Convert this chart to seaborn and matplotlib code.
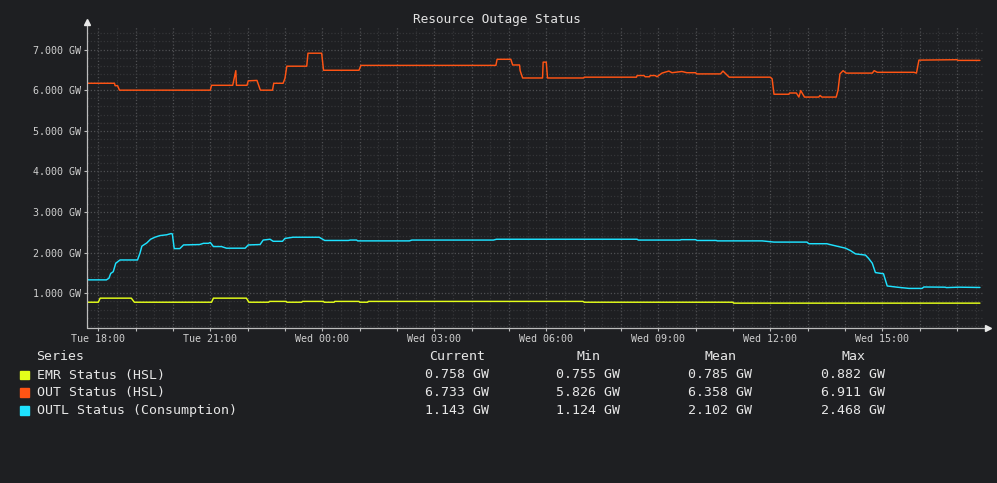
import pandas as pd
import matplotlib
matplotlib.use("Agg")
import matplotlib.pyplot as plt
import matplotlib.dates as mdates
from matplotlib.ticker import MultipleLocator, FuncFormatter
from matplotlib.patches import Rectangle
import seaborn as sns

# Dados (hora, valor em GW)
emr_times = ["Tue 17:41", "Tue 18:00", "Tue 18:03", "Tue 18:53", "Tue 18:58", "Tue 21:02", "Tue 21:05",
             "Tue 21:58", "Tue 22:02", "Tue 22:34", "Tue 22:35", "Tue 23:02", "Tue 23:03", "Tue 23:27",
             "Tue 23:28", "Wed 00:02", "Wed 00:03", "Wed 00:19", "Wed 00:20", "Wed 00:59", "Wed 01:00",
             "Wed 01:13", "Wed 01:14", "Wed 06:59", "Wed 07:01", "Wed 11:00", "Wed 11:01", "Wed 17:37"]
emr_values = [0.78, 0.78, 0.88, 0.88, 0.78, 0.78, 0.88,
              0.88, 0.78, 0.78, 0.80, 0.80, 0.78, 0.78,
              0.80, 0.80, 0.78, 0.78, 0.80, 0.80, 0.78,
              0.78, 0.80, 0.80, 0.78, 0.78, 0.757, 0.757]

out_times = ["Tue 17:41", "Tue 18:26", "Tue 18:27", "Tue 18:31", "Tue 18:34", "Tue 21:00", "Tue 21:02",
             "Tue 21:36", "Tue 21:37", "Tue 21:41", "Tue 21:42", "Tue 21:59", "Tue 22:01", "Tue 22:15",
             "Tue 22:20", "Tue 22:21", "Tue 22:40", "Tue 22:42", "Tue 22:57", "Tue 23:00", "Tue 23:03",
             "Tue 23:35", "Tue 23:37", "Tue 23:59", "Wed 00:02", "Wed 00:59", "Wed 01:02", "Wed 04:39",
             "Wed 04:41", "Wed 05:03", "Wed 05:06", "Wed 05:17", "Wed 05:18", "Wed 05:22", "Wed 05:54",
             "Wed 05:55", "Wed 06:00", "Wed 06:02", "Wed 07:00", "Wed 07:01", "Wed 08:25", "Wed 08:26",
             "Wed 08:37", "Wed 08:39", "Wed 08:46", "Wed 08:47", "Wed 08:55", "Wed 08:58", "Wed 09:06",
             "Wed 09:17", "Wed 09:22", "Wed 09:38", "Wed 09:46", "Wed 10:00", "Wed 10:02", "Wed 10:40",
             "Wed 10:44", "Wed 10:50", "Wed 10:54", "Wed 12:00", "Wed 12:03", "Wed 12:06", "Wed 12:30",
             "Wed 12:31", "Wed 12:42", "Wed 12:46", "Wed 12:49", "Wed 12:55", "Wed 13:18", "Wed 13:20",
             "Wed 13:23", "Wed 13:46", "Wed 13:49", "Wed 13:52", "Wed 13:57", "Wed 14:02", "Wed 14:44",
             "Wed 14:47", "Wed 14:52", "Wed 15:51", "Wed 15:55", "Wed 15:59", "Wed 17:00", "Wed 17:02",
             "Wed 17:37"]
out_values = [6.17, 6.17, 6.11, 6.11, 6.00, 6.00, 6.12,
              6.12, 6.19, 6.48, 6.12, 6.12, 6.23, 6.24,
              6.02, 6.00, 6.00, 6.17, 6.17, 6.29, 6.59,
              6.59, 6.91, 6.91, 6.49, 6.49, 6.61, 6.61,
              6.76, 6.76, 6.62, 6.62, 6.48, 6.30, 6.30,
              6.69, 6.69, 6.30, 6.30, 6.32, 6.32, 6.36,
              6.36, 6.33, 6.33, 6.36, 6.36, 6.33, 6.42,
              6.47, 6.43, 6.46, 6.43, 6.43, 6.40, 6.40,
              6.47, 6.38, 6.32, 6.32, 6.28, 5.90, 5.90,
              5.93, 5.93, 5.83, 5.99, 5.83, 5.83, 5.87,
              5.83, 5.83, 6.00, 6.40, 6.48, 6.42, 6.42,
              6.48, 6.44, 6.44, 6.42, 6.74, 6.75, 6.733,
              6.733]

outl_times = ["Tue 17:41", "Tue 17:44", "Tue 18:13", "Tue 18:17", "Tue 18:20", "Tue 18:24", "Tue 18:28",
              "Tue 18:35", "Tue 19:03", "Tue 19:07", "Tue 19:10", "Tue 19:18", "Tue 19:24", "Tue 19:31",
              "Tue 19:39", "Tue 19:50", "Tue 19:57", "Tue 19:59", "Tue 20:02", "Tue 20:11", "Tue 20:17",
              "Tue 20:43", "Tue 20:49", "Tue 20:57", "Tue 21:00", "Tue 21:05", "Tue 21:18", "Tue 21:26",
              "Tue 21:56", "Tue 22:01", "Tue 22:20", "Tue 22:25", "Tue 22:36", "Tue 22:41", "Tue 22:56",
              "Tue 23:00", "Tue 23:13", "Tue 23:55", "Wed 00:04", "Wed 00:42", "Wed 00:45", "Wed 00:55",
              "Wed 00:57", "Wed 02:20", "Wed 02:24", "Wed 04:35", "Wed 04:40", "Wed 08:26", "Wed 08:28",
              "Wed 09:35", "Wed 09:37", "Wed 10:00", "Wed 10:02", "Wed 10:33", "Wed 10:35", "Wed 11:47",
              "Wed 12:06", "Wed 12:59", "Wed 13:02", "Wed 13:31", "Wed 13:36", "Wed 13:47", "Wed 14:01",
              "Wed 14:09", "Wed 14:17", "Wed 14:33", "Wed 14:38", "Wed 14:44", "Wed 14:49", "Wed 15:02",
              "Wed 15:08", "Wed 15:24", "Wed 15:43", "Wed 16:04", "Wed 16:07", "Wed 16:41", "Wed 16:43",
              "Wed 17:03", "Wed 17:37"]
outl_values = [1.37, 1.33, 1.33, 1.37, 1.49, 1.53, 1.74,
               1.82, 1.82, 1.99, 2.16, 2.24, 2.33, 2.38,
               2.42, 2.44, 2.47, 2.46, 2.10, 2.10, 2.19,
               2.20, 2.23, 2.23, 2.25, 2.15, 2.15, 2.11,
               2.11, 2.19, 2.20, 2.31, 2.33, 2.28, 2.28,
               2.35, 2.38, 2.38, 2.30, 2.30, 2.31, 2.31,
               2.29, 2.29, 2.31, 2.31, 2.33, 2.33, 2.31,
               2.31, 2.32, 2.32, 2.30, 2.30, 2.29, 2.29,
               2.26, 2.26, 2.22, 2.22, 2.20, 2.16, 2.11,
               2.05, 1.97, 1.94, 1.86, 1.74, 1.51, 1.48,
               1.18, 1.15, 1.12, 1.12, 1.155, 1.15, 1.14,
               1.15, 1.143]

series_names = ["EMR Status (HSL)", "OUT Status (HSL)", "OUTL Status (Consumption)"]
series_colors = ["#e4ff1a", "#ff5414", "#1ee2ff"]

# Tabela de estatísticas (Current, Min, Mean, Max)
stat_headers = ["Current", "Min", "Mean", "Max"]
stat_current = [0.758, 6.733, 1.143]
stat_min = [0.755, 5.826, 1.124]
stat_mean = [0.785, 6.358, 2.102]
stat_max = [0.882, 6.911, 2.468]

days = {"Tue": "2024-01-02", "Wed": "2024-01-03"}


def to_datetime(labels):
    return pd.to_datetime([days[s.split()[0]] + " " + s.split()[1] for s in labels])


frames = []
for name, times, values in [(series_names[0], emr_times, emr_values),
                            (series_names[1], out_times, out_values),
                            (series_names[2], outl_times, outl_values)]:
    frames.append(pd.DataFrame({"time": to_datetime(times), "value": values, "series": name}))
df = pd.concat(frames, ignore_index=True)

bg = "#1e1f22"
sns.set_theme(style="dark", rc={"figure.facecolor": bg, "axes.facecolor": bg, "savefig.facecolor": bg})
plt.rcParams["font.family"] = ["DejaVu Sans Mono", "DejaVu Sans"]

fig = plt.figure(figsize=(9.97, 4.83), dpi=100)
ax = fig.add_axes([0.0870, 0.3203, 0.8993, 0.6259])

sns.lineplot(data=df, x="time", y="value", hue="series", hue_order=series_names,
             palette=series_colors, linewidth=1.05, legend=False, ax=ax, zorder=3)

ax.set_xlim(pd.Timestamp("2024-01-02 17:41:24"), pd.Timestamp("2024-01-03 17:42:30"))
ax.set_ylim(0.138, 7.58)
ax.set_xlabel("")
ax.set_ylabel("")

# Grades e ticks
ax.xaxis.set_major_locator(mdates.HourLocator(interval=1))
ax.xaxis.set_minor_locator(mdates.MinuteLocator(byminute=[30]))
ax.xaxis.set_major_formatter(FuncFormatter(
    lambda v, p: mdates.num2date(v).strftime("%a %H:%M") if mdates.num2date(v).hour % 3 == 0 else ""))
ax.yaxis.set_major_locator(MultipleLocator(1))
ax.yaxis.set_minor_locator(MultipleLocator(0.2))
ax.yaxis.set_major_formatter(FuncFormatter(lambda v, p: f"{v:.3f} GW"))

ax.grid(which="major", color="#4e4f52", linestyle=(0, (1, 1.6)), linewidth=0.9)
ax.grid(which="minor", color="#343538", linestyle=(0, (1, 1.6)), linewidth=0.9)
ax.set_axisbelow(True)

ax.tick_params(axis="both", which="major", colors="#bdbdbd", labelcolor="#cfcfcf",
               length=2, width=0.8, labelsize=7.2, pad=2, bottom=True, left=True)
ax.tick_params(axis="both", which="minor", length=0)

for sp in ax.spines.values():
    sp.set_visible(False)

# Eixos com setas
axis_color = "#bdbdbd"
ax.plot([0, 0], [0, 1.01], transform=ax.transAxes, color=axis_color, lw=0.9, clip_on=False, zorder=4)
ax.plot([0, 1.004], [0, 0], transform=ax.transAxes, color=axis_color, lw=0.9, clip_on=False, zorder=4)
ax.plot([0], [1.013], transform=ax.transAxes, marker="^", ms=4, color="#e8e8e8", clip_on=False, zorder=5)
ax.plot([1.005], [0], transform=ax.transAxes, marker=">", ms=4, color="#e8e8e8", clip_on=False, zorder=5)

fig.text(0.4985, 1 - 19 / 483, "Resource Outage Status", ha="center", va="center",
         fontsize=9.2, color="#e2e2e2")

# Legenda em forma de tabela
W, H = 997, 483
txt = "#e6e6e6"
fs = 9.5
fig.text(36.5 / W, 1 - 356 / H, "Series", ha="left", va="center", fontsize=fs, color=txt)
col_x = [457, 588, 720, 853]
for cx, h in zip(col_x, stat_headers):
    fig.text(cx / W, 1 - 356 / H, h, ha="center", va="center", fontsize=fs, color=txt)

row_y = [375, 392.7, 410.5]
for i, name in enumerate(series_names):
    y = row_y[i]
    fig.patches.append(Rectangle((20 / W, 1 - (y + 4.3) / H), 8.7 / W, 8.6 / H,
                                 transform=fig.transFigure, color=series_colors[i], figure=fig))
    fig.text(36.5 / W, 1 - y / H, name, ha="left", va="center", fontsize=fs, color=txt)
    for cx, vals in zip(col_x, [stat_current, stat_min, stat_mean, stat_max]):
        fig.text(cx / W, 1 - y / H, f"{vals[i]:.3f} GW", ha="center", va="center", fontsize=fs, color=txt)

fig.savefig("out.png", dpi=100, facecolor=bg)
